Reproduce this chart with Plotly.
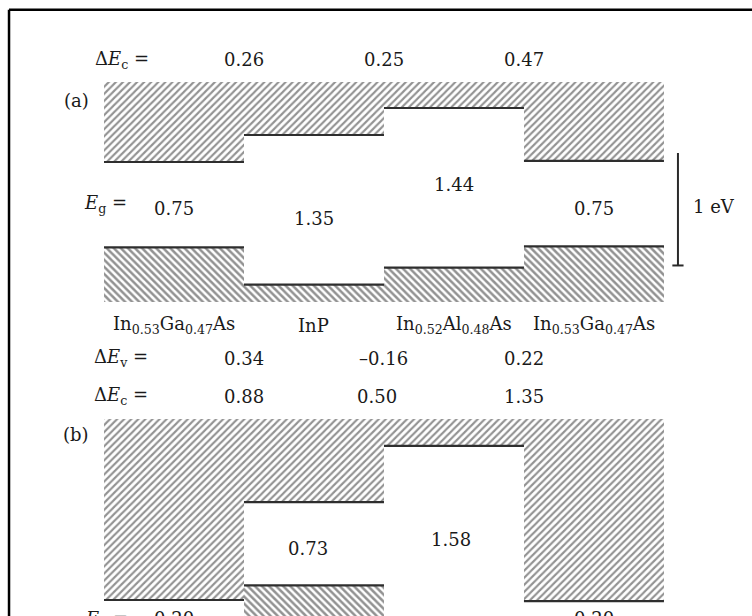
import plotly.graph_objects as go

# ---------------- data ----------------
LAYERS = ["In<sub>0.53</sub>Ga<sub>0.47</sub>As", "InP",
          "In<sub>0.52</sub>Al<sub>0.48</sub>As", "In<sub>0.53</sub>Ga<sub>0.47</sub>As"]

# (a) band edges in eV (relative to the InGaAs conduction-band edge)
CB_A = [0.00, 0.24, 0.48, 0.01]
VB_A = [-0.76, -1.09, -0.94, -0.75]
DEC_A = [0.26, 0.25, 0.47]          # conduction-band offsets
EG_A = [0.75, 1.35, 1.44, 0.75]     # band gaps

# (b) band edges in eV
CB_B = [0.00, 0.87, 1.37, -0.01]
VB_B = [-0.20, 0.13, -0.21, -0.20]
DEV_B = [0.34, -0.16, 0.22]         # valence-band offsets
DEC_B = [0.88, 0.50, 1.35]          # conduction-band offsets
EG_B = [0.20, 0.73, 1.58, 0.20]     # band gaps

SCALE_EV = 1.0

# ---------------- drawing constants ----------------
CB_TOP_A, VB_BOT_A = 0.71, -1.245
CB_TOP_B, VB_BOT_B = 1.61, -0.8
FONT = dict(family="DejaVu Serif", size=18, color="#1a1a1a")
HATCH = "#262626"
EDGE = "#2e2e2e"

centers = [i + 0.5 for i in range(len(LAYERS))]

fig = go.Figure()


def hatched(base, height, shape, yaxis, size, solidity):
    fig.add_trace(go.Bar(
        x=centers, y=height, base=base, width=1, xaxis="x", yaxis=yaxis,
        marker=dict(color="white", line=dict(width=0),
                    pattern=dict(shape=shape, fgcolor=HATCH, bgcolor="white",
                                 size=size, solidity=solidity)),
        hoverinfo="skip", showlegend=False))


def edges(levels, yaxis):
    xs, ys = [], []
    for i, e in enumerate(levels):
        xs += [i, i + 1, None]
        ys += [e, e, None]
    fig.add_trace(go.Scatter(x=xs, y=ys, mode="lines", xaxis="x", yaxis=yaxis,
                             line=dict(color=EDGE, width=2.2),
                             hoverinfo="skip", showlegend=False))


# panel (a)
hatched(CB_A, [CB_TOP_A - e for e in CB_A], "/", "y", 5, 0.42)
hatched([VB_BOT_A] * 4, [e - VB_BOT_A for e in VB_A], "\\", "y", 5, 0.5)
edges(CB_A, "y")
edges(VB_A, "y")

# panel (b)
hatched(CB_B, [CB_TOP_B - e for e in CB_B], "/", "y2", 5, 0.42)
hatched([VB_BOT_B] * 4, [e - VB_BOT_B for e in VB_B], "\\", "y2", 5, 0.5)
edges(CB_B, "y2")
edges(VB_B, "y2")

# 1 eV scale bar (panel a)
sx, stop = 4.1, 0.08
fig.add_trace(go.Scatter(x=[sx, sx, None, sx - 0.04, sx + 0.04],
                         y=[stop, stop - SCALE_EV, None, stop - SCALE_EV, stop - SCALE_EV],
                         mode="lines", xaxis="x", yaxis="y",
                         line=dict(color="#2a2a2a", width=2),
                         hoverinfo="skip", showlegend=False))

ann = []


def txt(x, y, text, yref, yanchor="middle"):
    ann.append(dict(x=x, y=y, xref="x", yref=yref, text=text, showarrow=False,
                    font=FONT, xanchor="center", yanchor=yanchor))


def fmt(v):
    return f"{v:.2f}".replace("-", "\u2013")


# ---- panel (a) labels ----
txt(0.13, 0.91, "Δ<i>E</i><sub>c</sub> =", "y")
for i, v in enumerate(DEC_A):
    txt(i + 1.0, 0.91, fmt(v), "y")
txt(-0.2, 0.55, "(a)", "y")
txt(0.01, -0.37, "<i>E</i><sub>g</sub> =", "y")
eg_a_y = [-0.41, -0.50, -0.20, -0.41]
for i, v in enumerate(EG_A):
    txt(centers[i], eg_a_y[i], fmt(v), "y")
txt(4.36, -0.40, "1 eV", "y")

# ---- panel (b) labels ----
for i, name in enumerate(LAYERS):
    txt(centers[i], 2.44, name, "y2")
txt(0.12, 2.15, "Δ<i>E</i><sub>v</sub> =", "y2")
for i, v in enumerate(DEV_B):
    txt(i + 1.0, 2.15, fmt(v), "y2")
txt(0.12, 1.81, "Δ<i>E</i><sub>c</sub> =", "y2")
for i, v in enumerate(DEC_B):
    txt(i + 1.0 - (0.05 if i == 1 else 0), 1.81, fmt(v), "y2")
txt(-0.2, 1.47, "(b)", "y2")
txt(centers[1] - 0.04, 0.46, fmt(EG_B[1]), "y2")
txt(centers[2] - 0.02, 0.54, fmt(EG_B[2]), "y2")
# labels cut by the bottom edge of the page
txt(0.02, -0.05, "<i>E</i><sub>g</sub> =", "y2", yanchor="top")
txt(centers[0], -0.05, fmt(EG_B[0]), "y2", yanchor="top")
txt(centers[3], -0.05, fmt(EG_B[3]), "y2", yanchor="top")

# frame (scan border)
shapes = [
    dict(type="line", xref="paper", yref="paper", x0=0.012, x1=0.012, y0=0, y1=0.984,
         line=dict(color="black", width=2.5)),
    dict(type="line", xref="paper", yref="paper", x0=0.012, x1=1.0, y0=0.984, y1=0.984,
         line=dict(color="black", width=2.5)),
]

ax_common = dict(showgrid=False, zeroline=False, showticklabels=False, showline=False,
                 ticks="")
fig.update_layout(
    width=752, height=616, autosize=False,
    margin=dict(l=0, r=0, t=0, b=0, pad=0),
    paper_bgcolor="white", plot_bgcolor="white",
    barmode="overlay", bargap=0,
    xaxis=dict(range=[-0.743, 4.629], domain=[0, 1], anchor="y", **ax_common),
    yaxis=dict(range=[-1.3156, 1.44], domain=[0.4968, 1], anchor="x", **ax_common),
    yaxis2=dict(range=[-0.1422, 2.5778], domain=[0, 0.4968], anchor="x", **ax_common),
    annotations=ann, shapes=shapes, showlegend=False,
)

fig.write_html("out.html")
